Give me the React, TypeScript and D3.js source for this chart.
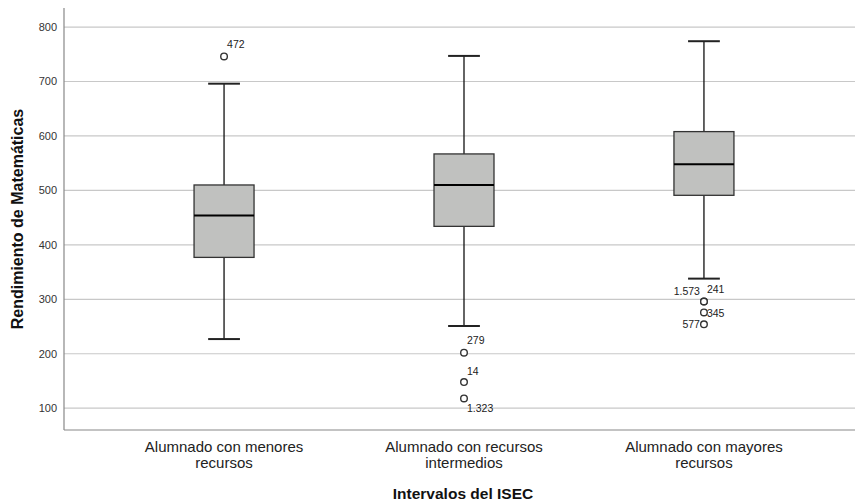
import React from "react";
import * as d3 from "d3";

const categories = [
  "Alumnado con menores|recursos",
  "Alumnado con recursos|intermedios",
  "Alumnado con mayores|recursos",
];
const lowerWhisker = [227, 251, 338];
const q1Values = [377, 434, 491];
const medians = [454, 510, 548];
const q3Values = [510, 567, 608];
const upperWhisker = [696, 747, 774];
const outliers = [
  { group: 0, value: 746, label: "472" },
  { group: 1, value: 202, label: "279" },
  { group: 1, value: 148, label: "14" },
  { group: 1, value: 118, label: "1.323" },
  { group: 2, value: 296, label: "1.573" },
  { group: 2, value: 296, label: "241" },
  { group: 2, value: 276, label: "345" },
  { group: 2, value: 254, label: "577" },
];
const yTicks = [100, 200, 300, 400, 500, 600, 700, 800];

// where each outlier label sits relative to its point
const labelPlace: Record<string, [number, number, string]> = {
  "472": [3, -12, "start"],
  "279": [3, -12, "start"],
  "14": [3, -11, "start"],
  "1.323": [3, 10, "start"],
  "1.573": [-4, -10, "end"],
  "241": [3, -12, "start"],
  "345": [3, 1, "start"],
  "577": [-4, 0, "end"],
};

const W = 855;
const H = 503;
const left = 64;
const top = 8;
const bottom = 430;

export default function App() {
  const x = d3
    .scalePoint<string>()
    .domain(categories)
    .range([left, 864])
    .padding(0.667);
  const y = d3.scaleLinear().domain([60, 835]).range([bottom, top]);
  const boxW = x.step() * 0.25;
  const capW = boxW * 0.53;
  const font = "Liberation Sans, Arial, sans-serif";

  return (
    <svg
      width={W}
      height={H}
      style={{ position: "absolute", left: 0, top: 0, background: "#fff" }}
      fontFamily={font}
    >
      {yTicks.map((t) => (
        <g key={t}>
          <line x1={left} x2={W} y1={y(t)} y2={y(t)} stroke="#c8c8c8" strokeWidth={1.2} />
          <text x={57} y={y(t)} dy="0.35em" textAnchor="end" fontSize={11} fill="#333">
            {t}
          </text>
        </g>
      ))}
      <line x1={left} x2={left} y1={top} y2={bottom} stroke="#888" strokeWidth={1.2} />
      <line x1={left} x2={W} y1={bottom} y2={bottom} stroke="#888" strokeWidth={1.2} />

      {categories.map((c, i) => {
        const cx = x(c)!;
        return (
          <g key={c}>
            <line x1={cx} x2={cx} y1={y(upperWhisker[i])} y2={y(q3Values[i])} stroke="#111" strokeWidth={1.3} />
            <line x1={cx} x2={cx} y1={y(q1Values[i])} y2={y(lowerWhisker[i])} stroke="#111" strokeWidth={1.3} />
            <line x1={cx - capW / 2} x2={cx + capW / 2} y1={y(upperWhisker[i])} y2={y(upperWhisker[i])} stroke="#222" strokeWidth={2} />
            <line x1={cx - capW / 2} x2={cx + capW / 2} y1={y(lowerWhisker[i])} y2={y(lowerWhisker[i])} stroke="#222" strokeWidth={2} />
            <rect
              x={cx - boxW / 2}
              y={y(q3Values[i])}
              width={boxW}
              height={y(q1Values[i]) - y(q3Values[i])}
              fill="#c0c1bf"
              stroke="#333"
              strokeWidth={1.3}
            />
            <line x1={cx - boxW / 2} x2={cx + boxW / 2} y1={y(medians[i])} y2={y(medians[i])} stroke="#000" strokeWidth={2} />
            {c.split("|").map((ln, k) => (
              <text key={k} x={cx} y={452 + k * 16} textAnchor="middle" fontSize={15} fill="#222">
                {ln}
              </text>
            ))}
          </g>
        );
      })}

      {outliers.map((o) => {
        const cx = x(categories[o.group])!;
        const cy = y(o.value);
        const [dx, dy, anchor] = labelPlace[o.label];
        return (
          <g key={o.label}>
            <circle cx={cx} cy={cy} r={3.3} fill="#fff" stroke="#333" strokeWidth={1.4} />
            <text x={cx + dx} y={cy + dy} dy="0.35em" textAnchor={anchor} fontSize={10.5} fill="#222">
              {o.label}
            </text>
          </g>
        );
      })}

      <text
        transform={`translate(23,${(top + bottom) / 2}) rotate(-90)`}
        textAnchor="middle"
        fontSize={16}
        fontWeight="bold"
        fill="#111"
      >
        Rendimiento de Matemáticas
      </text>
      <text x={463} y={499} textAnchor="middle" fontSize={15.5} fontWeight="bold" fill="#111">
        Intervalos del ISEC
      </text>
    </svg>
  );
}
